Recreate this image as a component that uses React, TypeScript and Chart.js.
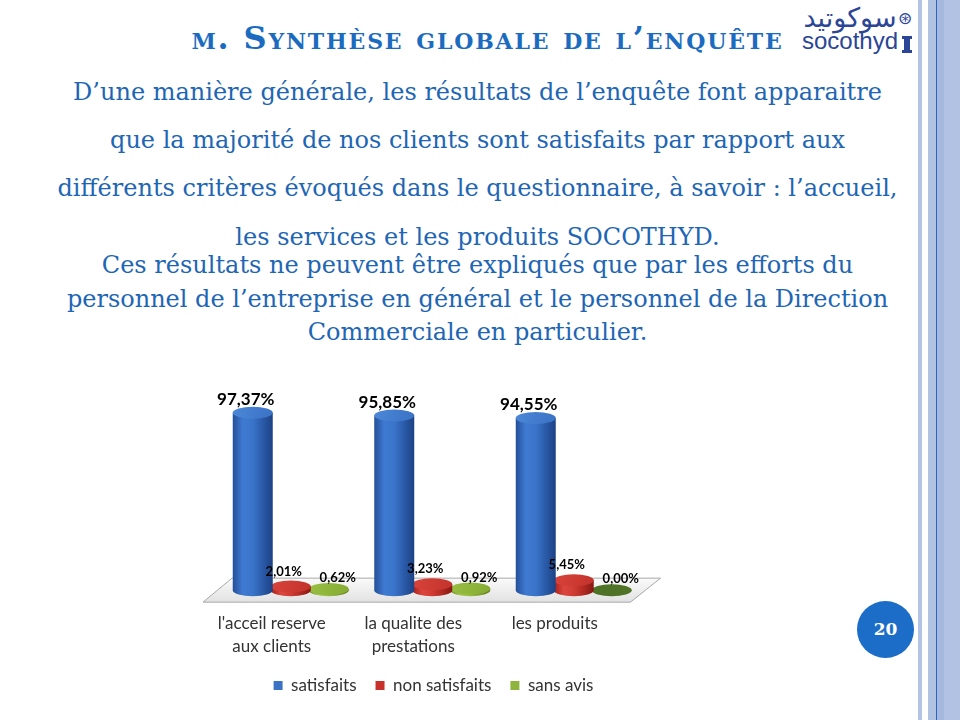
import React, { useEffect, useRef } from "react";
import { Chart, registerables } from "chart.js";

Chart.register(...registerables);

// ---------- data ----------
const categories: string[][] = [
  ["l'acceil reserve", "aux clients"],
  ["la qualite des", "prestations"],
  ["les produits"],
];
const seriesNames = ["satisfaits", "non satisfaits", "sans avis"];
const satisfaits = [97.37, 95.85, 94.55];
const nonSatisfaits = [2.01, 3.23, 5.45];
const sansAvis = [0.62, 0.92, 0.0];

const titleText = "m. Synthèse globale de l’enquête";
const para1 = [
  "D’une manière générale, les résultats de l’enquête font apparaitre",
  "que la majorité de nos clients sont satisfaits par rapport aux",
  "différents critères évoqués dans le questionnaire, à savoir : l’accueil,",
  "les services et les produits SOCOTHYD.",
];
const para2 = [
  "Ces résultats ne peuvent être expliqués que par les efforts du",
  "personnel de l’entreprise en général et le personnel de la Direction",
  "Commerciale en particulier.",
];
const pageNumber = "20";

// ---------- styles ----------
const CHART_FONT = "Lato, 'Open Sans', sans-serif";
const legendColors = ["#3b73c4", "#c8302a", "#8db43c"];
const palettes: any[] = [
  null,
  { stops: ["#244f98", "#3f7ad2", "#3a74ca", "#2a5aa8", "#1c4284"], top: "#4c87d8", topEdge: "#3a72c4" },
  { stops: ["#a3201a", "#dc463d", "#d03c34", "#b02a22", "#861812"], top: "#d9443b", topEdge: "#c2322b" },
  { stops: ["#6f8f24", "#a2c44a", "#98bc40", "#7fa02e", "#5f7d1c"], top: "#98bf42", topEdge: "#86ab34", zero: "#4e7326" },
];
const labelOffsets = [null, { dx: -7, dy: -13, size: 17 }, { dx: -7, dy: -15, size: 13 }, { dx: 9, dy: -11, size: 13 }];

const fmt = (v: number) => v.toFixed(2).replace(".", ",") + "%";

const cylinderPlugin = {
  id: "cylinders",
  beforeDatasetsDraw(chart: any) {
    const { ctx, chartArea, scales } = chart;
    const base = scales.y.getPixelForValue(0);
    const l = chartArea.left;
    const r = chartArea.right;
    ctx.save();
    ctx.beginPath();
    ctx.moveTo(l + 31, base - 12);
    ctx.lineTo(r + 35, base - 12);
    ctx.lineTo(r + 5, base + 12);
    ctx.lineTo(l + 2, base + 12);
    ctx.closePath();
    const g = ctx.createLinearGradient(0, base - 12, 0, base + 12);
    g.addColorStop(0, "#fafafa");
    g.addColorStop(1, "#e2e2e2");
    ctx.fillStyle = g;
    ctx.fill();
    ctx.strokeStyle = "#a8a8a8";
    ctx.lineWidth = 1;
    ctx.stroke();
    ctx.restore();
  },
  afterDatasetDraw(chart: any, args: any) {
    const pal = palettes[args.index];
    if (!pal) return;
    const ctx = chart.ctx;
    const values = chart.data.datasets[args.index].data;
    ctx.save();
    args.meta.data.forEach((el: any, j: number) => {
      const { x, y, base, width } = el.getProps(["x", "y", "base", "width"], true);
      const rx = width / 2;
      const ry = 6;
      if (values[j] === 0) {
        ctx.beginPath();
        ctx.ellipse(x, base, rx, ry, 0, 0, Math.PI * 2);
        ctx.fillStyle = pal.zero;
        ctx.fill();
        return;
      }
      const g = ctx.createLinearGradient(x - rx, 0, x + rx, 0);
      const n = pal.stops.length;
      pal.stops.forEach((c: string, k: number) => g.addColorStop(k / (n - 1), c));
      ctx.beginPath();
      ctx.moveTo(x - rx, y);
      ctx.lineTo(x - rx, base);
      ctx.ellipse(x, base, rx, ry, 0, Math.PI, 0, true);
      ctx.lineTo(x + rx, y);
      ctx.closePath();
      ctx.fillStyle = g;
      ctx.fill();
      const tg = ctx.createLinearGradient(x - rx, y - ry, x + rx, y + ry);
      tg.addColorStop(0, pal.top);
      tg.addColorStop(1, pal.topEdge);
      ctx.beginPath();
      ctx.ellipse(x, y, rx, ry, 0, 0, Math.PI * 2);
      ctx.fillStyle = tg;
      ctx.fill();
    });
    ctx.restore();
  },
  afterDatasetsDraw(chart: any) {
    const ctx = chart.ctx;
    ctx.save();
    ctx.textAlign = "center";
    ctx.textBaseline = "middle";
    ctx.fillStyle = "#000";
    chart.data.datasets.forEach((ds: any, i: number) => {
      const o = labelOffsets[i];
      if (!o) return;
      const meta = chart.getDatasetMeta(i);
      ctx.font = `bold ${o.size}px ${CHART_FONT}`;
      meta.data.forEach((el: any, j: number) => {
        const { x, y } = el.getProps(["x", "y"], true);
        ctx.fillText(fmt(ds.data[j]), x + o.dx, y + o.dy);
      });
    });
    ctx.restore();
  },
};

function ChartBox() {
  const ref = useRef<HTMLCanvasElement>(null);
  useEffect(() => {
    const clear = "rgba(0,0,0,0)";
    const chart = new Chart(ref.current!, {
      type: "bar",
      data: {
        labels: categories as any,
        datasets: [
          { label: "", data: [0, 0, 0], backgroundColor: clear },
          { label: seriesNames[0], data: satisfaits, backgroundColor: clear },
          { label: seriesNames[1], data: nonSatisfaits, backgroundColor: clear },
          { label: seriesNames[2], data: sansAvis, backgroundColor: clear },
        ],
      },
      options: {
        animation: false,
        responsive: true,
        maintainAspectRatio: false,
        events: [],
        datasets: {
          bar: { categoryPercentage: 1.0742, barPercentage: 1.0526 },
        } as any,
        layout: { padding: { top: 38, left: 11, right: 14, bottom: 0 } },
        scales: {
          x: {
            grid: { display: false, drawTicks: false },
            border: { display: false },
            ticks: {
              padding: 0,
              color: "#333",
              font: { family: CHART_FONT, size: 17, lineHeight: 23 / 17 },
              maxRotation: 0,
              autoSkip: false,
            },
          },
          y: {
            position: "right",
            min: -12,
            max: 100,
            grid: { display: false, drawTicks: false },
            border: { display: false },
            ticks: { display: false },
            afterFit: (s: any) => {
              s.width = 40.5;
            },
          },
        },
        plugins: {
          tooltip: { enabled: false },
          legend: {
            position: "bottom",
            labels: {
              boxWidth: 9,
              boxHeight: 9,
              padding: 19,
              color: "#333",
              font: { family: CHART_FONT, size: 17 },
              generateLabels: () =>
                seriesNames.map((name, i) => ({
                  text: name,
                  fillStyle: legendColors[i],
                  strokeStyle: legendColors[i],
                  lineWidth: 0,
                  hidden: false,
                  datasetIndex: i + 1,
                  fontColor: "#333",
                })),
            },
          },
        },
      },
      plugins: [cylinderPlugin],
    } as any);
    return () => chart.destroy();
  }, []);
  return (
    <div style={{ position: "absolute", left: 190, top: 370, width: 490, height: 334 }}>
      <canvas ref={ref} />
    </div>
  );
}

const BODY_FONT = "'DejaVu Serif', serif";
const TEXT_BLUE = "#1e66b4";

function Line({ text, baseline, size }: { text: string; baseline: number; size: number }) {
  const lh = 32;
  const top = baseline - ((lh - 1.164 * size) / 2 + 0.928 * size);
  return (
    <div
      style={{
        position: "absolute",
        left: 0,
        width: 955,
        top,
        height: lh,
        lineHeight: lh + "px",
        textAlign: "center",
        whiteSpace: "nowrap",
        fontFamily: BODY_FONT,
        fontSize: size,
        color: TEXT_BLUE,
      }}
    >
      {text}
    </div>
  );
}

export default function App() {
  const p1Base = [100, 148, 196, 245];
  const p2Base = [273, 307, 340];
  return (
    <div
      style={{
        position: "fixed",
        left: 0,
        top: 0,
        width: 960,
        height: 720,
        background: "#fff",
        overflow: "hidden",
      }}
    >
      {/* right decorative stripes */}
      <div style={{ position: "absolute", left: 918, top: 0, width: 4, height: 720, background: "#b3c3e3" }} />
      <div style={{ position: "absolute", left: 928, top: 0, width: 32, height: 720, background: "#b2c2e3" }} />
      <div style={{ position: "absolute", left: 936, top: 0, width: 1, height: 720, background: "#2d63c0" }} />
      <div style={{ position: "absolute", left: 937, top: 0, width: 7, height: 720, background: "#a6b8de" }} />

      {/* title */}
      <div
        style={{
          position: "absolute",
          left: 0,
          width: 975,
          top: 16,
          lineHeight: "44px",
          textAlign: "center",
          whiteSpace: "nowrap",
          fontFamily: BODY_FONT,
          fontWeight: "bold",
          fontVariant: "small-caps",
          fontSize: 32,
          letterSpacing: "1.8px",
          color: "#1b6cc0",
        }}
      >
        {titleText}
      </div>

      {/* logo */}
      <div
        style={{
          position: "absolute",
          left: 801,
          top: 2,
          width: 98,
          textAlign: "center",
          fontFamily: "'DejaVu Sans', sans-serif",
          fontSize: 27,
          lineHeight: "32px",
          color: "#2b4597",
          direction: "rtl",
        }}
      >
        سوكوتيد
      </div>
      <div
        style={{
          position: "absolute",
          left: 802,
          top: 27,
          fontFamily: "'Liberation Sans', Arial, sans-serif",
          fontSize: 24,
          lineHeight: "28px",
          color: "#2b4597",
        }}
      >
        socothyd
      </div>
      <div
        style={{
          position: "absolute",
          left: 898,
          top: 8,
          fontFamily: "'DejaVu Sans', sans-serif",
          fontSize: 17,
          lineHeight: "20px",
          color: "#2b4597",
        }}
      >
        ⊛
      </div>
      <div style={{ position: "absolute", left: 902, top: 36, width: 10, height: 3, background: "#2b4597" }} />
      <div style={{ position: "absolute", left: 904, top: 38, width: 6, height: 13, background: "#2b4597" }} />
      <div style={{ position: "absolute", left: 902, top: 50, width: 10, height: 3, background: "#2b4597" }} />

      {/* body text */}
      {para1.map((t, i) => (
        <Line key={"a" + i} text={t} baseline={p1Base[i]} size={24} />
      ))}
      {para2.map((t, i) => (
        <Line key={"b" + i} text={t} baseline={p2Base[i]} size={24} />
      ))}

      <ChartBox />

      {/* page number */}
      <div
        style={{
          position: "absolute",
          left: 857,
          top: 601,
          width: 57,
          height: 57,
          borderRadius: "50%",
          background: "#1b6dc8",
          color: "#fff",
          fontFamily: BODY_FONT,
          fontWeight: "bold",
          fontSize: 17,
          lineHeight: "57px",
          textAlign: "center",
        }}
      >
        {pageNumber}
      </div>
    </div>
  );
}
